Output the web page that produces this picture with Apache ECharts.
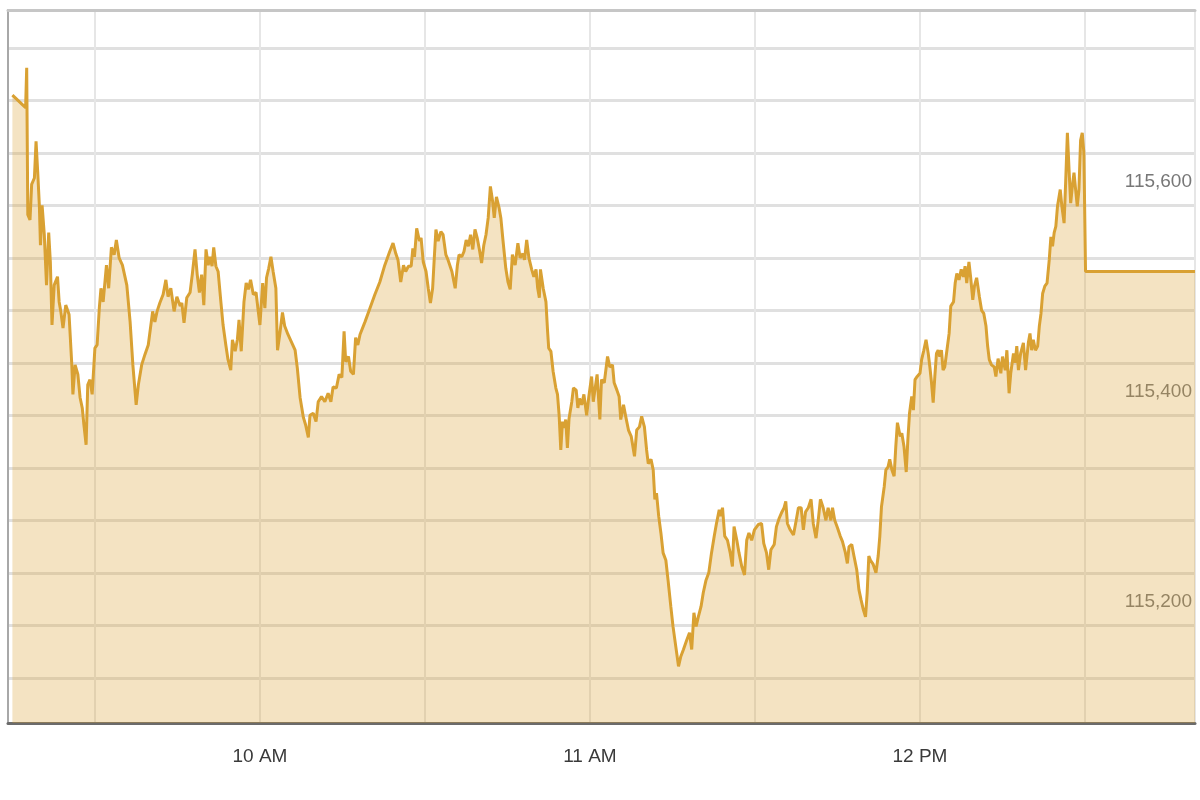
<!DOCTYPE html>
<html>
<head>
<meta charset="utf-8">
<script src="https://cdn.jsdelivr.net/npm/echarts@6/dist/echarts.min.js"></script>
<style>html,body{margin:0;padding:0;background:#fff}#chart{width:1200px;height:800px}</style>
</head>
<body>
<div id="chart"></div>
<script>
// Time of each trade, in minutes after 9:00 AM
const minutesAfterNine = [
  15.0,17.4,17.6,17.8,18.2,18.5,19.0,19.3,19.6,19.9,
  20.1,20.4,20.8,21.2,21.6,21.9,22.2,22.6,23.2,23.5,
  23.8,24.2,24.7,25.3,25.8,26.0,26.4,26.9,27.3,27.7,
  28.0,28.4,28.7,29.1,29.5,30.0,30.4,30.8,31.1,31.5,
  32.1,32.5,33.0,33.5,33.9,34.4,35.0,35.8,36.4,36.9,
  37.5,37.9,38.5,39.1,39.7,40.5,40.9,41.3,41.8,42.4,
  42.9,43.3,43.8,44.4,44.9,45.5,45.8,46.2,46.7,47.3,
  47.7,48.2,48.6,49.0,49.4,49.8,50.2,50.6,50.9,51.3,
  51.6,52.0,52.4,52.9,53.3,53.8,54.2,54.7,55.0,55.5,
  55.9,56.2,56.6,57.1,57.5,57.9,58.3,58.8,59.3,59.7,
  60.0,60.5,60.9,61.2,61.6,62.0,62.4,62.9,63.2,63.6,
  64.1,64.5,65.1,65.8,66.4,66.8,67.3,67.9,68.3,68.8,
  69.1,69.7,70.2,70.6,71.2,71.8,72.4,72.9,73.3,73.9,
  74.4,74.9,75.3,75.6,76.1,76.5,77.0,77.4,77.8,78.2,
  79.1,80.0,80.9,81.8,82.7,83.6,84.2,84.7,85.1,85.6,
  86.1,86.5,87.0,87.5,87.8,88.1,88.5,89.0,89.3,89.7,
  90.2,90.6,91.0,91.4,91.7,92.0,92.4,92.9,93.3,93.8,
  94.2,94.9,95.5,95.9,96.2,96.7,97.1,97.5,97.9,98.3,
  98.7,99.1,99.5,99.9,100.3,100.7,101.1,101.5,101.9,102.3,
  102.6,103.0,103.5,103.8,104.2,104.7,105.1,105.5,105.9,106.4,
  106.9,107.3,107.8,108.1,108.5,108.9,109.4,109.8,110.2,110.5,
  110.8,111.0,111.5,112.0,112.3,112.5,112.9,113.3,113.8,114.1,
  114.4,114.7,115.0,115.3,115.6,115.9,116.2,116.7,117.0,117.5,
  117.8,118.1,118.5,118.9,119.4,119.8,120.3,120.6,120.9,121.3,
  121.8,122.1,122.6,123.2,123.6,124.1,124.4,124.9,125.3,125.6,
  126.1,126.5,127.0,127.5,128.1,128.5,129.0,129.4,129.9,130.3,
  130.6,131.1,131.5,131.8,132.1,132.5,132.9,133.3,133.8,134.2,
  134.7,135.1,135.6,136.1,136.5,137.0,137.6,138.1,138.5,138.9,
  139.3,139.7,140.2,140.6,141.1,141.6,142.1,142.6,143.0,143.5,
  143.8,144.1,144.5,145.0,145.5,145.9,146.2,146.7,147.1,147.6,
  148.1,148.5,148.9,149.4,149.9,150.6,151.2,151.6,152.1,152.5,
  152.9,153.5,153.9,154.4,154.9,155.3,155.6,155.9,156.4,157.0,
  157.5,157.9,158.4,158.8,159.2,159.7,160.2,160.6,161.1,161.5,
  161.9,162.4,162.9,163.3,163.8,164.1,164.5,165.0,165.5,165.9,
  166.4,166.8,167.1,167.6,168.0,168.5,168.9,169.3,169.7,170.1,
  170.4,170.7,171.0,171.5,172.0,172.4,172.7,173.0,173.5,173.8,
  174.2,174.5,174.9,175.3,175.6,175.9,176.4,176.7,177.1,177.5,
  177.8,178.1,178.5,178.8,179.1,179.5,180.0,180.3,180.7,181.1,
  181.5,181.8,182.1,182.4,182.7,183.0,183.3,183.6,183.9,184.2,
  184.5,185.0,185.3,185.6,186.1,186.4,186.7,187.1,187.5,187.9,
  188.2,188.5,188.9,189.2,189.6,189.9,190.3,190.8,191.2,191.6,
  192.0,192.3,192.6,193.0,193.5,193.8,194.2,194.7,195.0,195.5,
  195.8,196.2,196.5,197.0,197.3,197.6,197.9,198.3,198.8,199.2,
  199.7,200.0,200.3,200.6,201.0,201.4,201.7,202.0,202.3,202.7,
  203.1,203.5,203.8,204.1,204.4,204.7,205.0,205.5,205.8,206.2,
  206.5,206.8,207.1,207.4,207.7,208.0,208.3,208.6,208.9,209.2,
  209.5,209.8,210.1,230.0
];

// Index level at each of those times
const prices = [
  115705,115693,115731,115591,115586,115620,115626,115661,115632,115600,
  115562,115600,115572,115524,115574,115546,115486,115524,115532,115508,
  115499,115483,115505,115496,115448,115420,115448,115439,115417,115407,
  115391,115372,115429,115434,115420,115464,115467,115502,115521,115508,
  115543,115521,115560,115553,115567,115550,115543,115524,115489,115448,
  115410,115429,115448,115458,115467,115499,115489,115499,115507,115515,
  115529,115513,115521,115499,115513,115504,115507,115488,115512,115517,
  115534,115558,115534,115517,115534,115505,115558,115543,115551,115542,
  115560,115542,115537,115508,115486,115467,115453,115443,115472,115461,
  115472,115491,115461,115508,115526,115520,115529,115515,115517,115499,
  115486,115526,115502,115531,115540,115551,115537,115521,115462,115477,
  115498,115485,115477,115469,115462,115445,115417,115398,115391,115379,
  115400,115402,115394,115413,115418,115413,115421,115413,115427,115426,
  115439,115436,115480,115451,115456,115442,115439,115474,115467,115477,
  115489,115502,115515,115527,115543,115556,115564,115554,115548,115527,
  115543,115537,115542,115542,115559,115551,115578,115566,115569,115546,
  115537,115521,115507,115521,115550,115577,115566,115575,115572,115553,
  115548,115537,115521,115543,115553,115551,115556,115567,115561,115572,
  115558,115577,115569,115558,115545,115562,115572,115588,115618,115604,
  115588,115608,115597,115588,115566,115540,115527,115520,115553,115543,
  115564,115550,115554,115548,115567,115550,115539,115532,115539,115521,
  115512,115539,115521,115508,115480,115464,115461,115442,115426,115420,
  115400,115367,115394,115388,115396,115369,115397,115413,115426,115424,
  115407,115416,115410,115420,115400,115418,115437,115413,115424,115439,
  115396,115434,115431,115456,115446,115448,115431,115424,115418,115396,
  115410,115399,115386,115380,115361,115386,115389,115399,115389,115367,
  115354,115358,115348,115320,115326,115304,115288,115269,115262,115243,
  115218,115199,115180,115161,115170,115177,115186,115193,115177,115212,
  115199,115208,115218,115231,115243,115250,115269,115285,115297,115310,
  115304,115312,115285,115281,115269,115256,115294,115281,115269,115256,
  115248,115281,115288,115281,115291,115296,115297,115278,115269,115253,
  115272,115277,115294,115302,115308,115312,115318,115297,115291,115286,
  115300,115312,115312,115291,115308,115312,115320,115297,115283,115300,
  115320,115312,115300,115312,115300,115312,115300,115293,115285,115280,
  115270,115259,115275,115277,115266,115253,115234,115224,115215,115208,
  115231,115266,115262,115258,115250,115266,115285,115313,115332,115348,
  115351,115358,115348,115342,115370,115393,115380,115383,115370,115346,
  115377,115402,115418,115405,115434,115437,115440,115453,115462,115472,
  115459,115446,115431,115412,115437,115459,115462,115456,115462,115443,
  115446,115466,115478,115504,115508,115526,115535,115529,115539,115532,
  115542,115526,115546,115532,115510,115523,115531,115513,115500,115497,
  115485,115466,115453,115448,115446,115437,115454,115440,115456,115443,
  115462,115421,115440,115459,115450,115466,115443,115459,115469,115443,
  115469,115478,115462,115472,115462,115466,115485,115497,115516,115523,
  115526,115548,115570,115561,115574,115580,115599,115615,115599,115583,
  115624,115669,115634,115602,115618,115631,115615,115599,115615,115662,
  115669,115650,115537,115537
];

// Axis tick labels
const hourTicks = [60, 120, 180];
const hourLabels = ['10 AM', '11 AM', '12 PM'];
const priceTicks = [115200, 115400, 115600];

const FONT = "'Liberation Sans Narrow','Liberation Sans',Arial,sans-serif";
const chart = echarts.init(document.getElementById('chart'), null, { renderer: 'canvas' });
const seriesData = minutesAfterNine.map((t, i) => [t, prices[i]]);

chart.setOption({
  animation: false,
  grid: { left: 8, right: 5, top: 10, bottom: 77, containLabel: false },
  xAxis: [{
    type: 'value', min: 14.2, max: 230, splitNumber: 7,
    axisLine: { show: true, onZero: false, lineStyle: { color: '#6b6b6b', width: 3 } },
    axisTick: { show: false },
    splitLine: { show: true, lineStyle: { color: '#e6e6e6', width: 2 } },
    axisLabel: {
      margin: 24, color: '#3a3a3a', fontSize: 19, fontFamily: FONT,
      formatter: v => { const i = hourTicks.indexOf(Math.round(v * 1000) / 1000); return i >= 0 ? hourLabels[i] : ''; }
    }
  }, {
    type: 'value', position: 'top', min: 0, max: 1,
    axisLine: { show: true, onZero: false, lineStyle: { color: '#c6c6c6', width: 3 } },
    axisTick: { show: false }, axisLabel: { show: false }, splitLine: { show: false }
  }],
  yAxis: [{
    type: 'value', position: 'right', min: 115107, max: 115786, splitNumber: 13,
    axisLine: { show: false }, axisTick: { show: false },
    splitLine: { show: true, lineStyle: { color: '#e0e0e0', width: 3 } },
    axisLabel: {
      inside: true, margin: 3, color: '#777777', fontSize: 19, fontFamily: FONT,
      verticalAlign: 'bottom', padding: [0, 0, 14, 0],
      formatter: v => priceTicks.includes(Math.round(v)) ? echarts.format.addCommas(Math.round(v)) : ''
    }
  }, {
    type: 'value', position: 'left', min: 0, max: 1,
    axisLine: { show: true, onZero: false, lineStyle: { color: '#a8a8a8', width: 2 } },
    axisTick: { show: false }, axisLabel: { show: false }, splitLine: { show: false }
  }],
  series: [{
    type: 'line', data: seriesData, xAxisIndex: 0, yAxisIndex: 0,
    showSymbol: false, symbol: 'none',
    lineStyle: { color: '#D9A133', width: 3 },
    areaStyle: { color: '#DAA334', opacity: 0.3, origin: 'start' }
  }]
});
</script>
</body>
</html>
